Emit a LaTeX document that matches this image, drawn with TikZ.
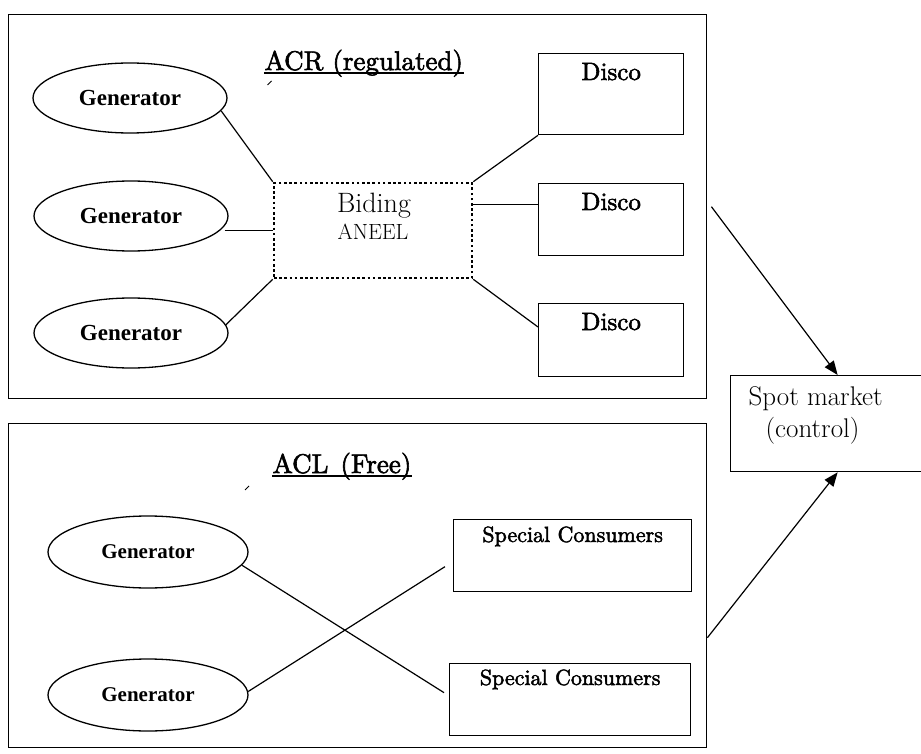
\documentclass[tikz,border=0pt]{standalone}
\usepackage{fontspec}
\usetikzlibrary{shapes.geometric,arrows.meta,calc}
\newfontfamily\genfont{Liberation Serif}
\newfontfamily\heavyfont{lmroman10-regular}[Extension=.otf,FakeBold=2.2]
\newcommand\fsz[1]{\fontsize{#1}{#1}\selectfont}

\begin{document}
\begin{tikzpicture}[x=1pt,y=-1pt,line width=1.2pt,
  frame/.style={draw,line width=1.4pt,anchor=north west,inner sep=0pt},
  gen/.style={draw,ellipse,line width=1.3pt,inner sep=0pt,
    minimum width=194pt,minimum height=70pt,font=\genfont\bfseries\fsz{23}},
  smallgen/.style={gen,minimum width=200pt,minimum height=72pt,font=\genfont\bfseries\fsz{21}},
  box/.style={draw,line width=1.3pt,anchor=north west,inner sep=0pt},
  dotbox/.style={draw,line width=2.6pt,dash pattern=on 2.6pt off 2.6pt,inner sep=0pt},
  lbl/.style={anchor=base,inner sep=0pt},
  link/.style={line width=1.2pt},
  feed/.style={line width=1.2pt,-{Triangle[length=14pt,width=11pt]}}]
\useasboundingbox (0,0) rectangle (921,754);

% outer frames
\node[frame,minimum width=698pt,minimum height=384pt] (acr) at (8,14) {};
\node[frame,minimum width=698pt,minimum height=324pt] (acl) at (8,423) {};

% spot market
\node[box,minimum width=195pt,minimum height=96pt] (spot) at (730,375) {};
\node[lbl,anchor=base west,font=\fsz{27}] (spott) at (748,405) {Spot market};
\node[lbl,anchor=base west,font=\fsz{27}] (ctrlt) at (765,437) {(control)};

% ---------- regulated environment ----------
\node[lbl,anchor=base west,font=\heavyfont\fsz{27}] (acrt) at (264,70) {ACR (regulated)};
\draw[line width=1.3pt] ([yshift=-3pt]acrt.base west) -- ([yshift=-3pt]acrt.base east);
\draw[line width=0.8pt] (267.5,85) -- (271.5,81);

\node[gen] (e1) at (130,98) {Generator};
\node[gen] (e2) at (131,216) {Generator};
\node[gen] (e3) at (131,333) {Generator};

\node[dotbox,minimum width=198pt,minimum height=95pt] (bid) at (373,230.5) {};
\node[lbl,font=\fsz{28}] (bidt) at (374,213) {Biding};
\node[lbl,font=\fsz{22}] (aneel) at (373,240) {ANEEL};

\node[box,minimum width=145pt,minimum height=81pt] (d1) at (538,53) {};
\node[box,minimum width=145pt,minimum height=72pt] (d2) at (538,183) {};
\node[box,minimum width=145pt,minimum height=73pt] (d3) at (538,303) {};
\foreach \d in {d1,d2,d3}
  \node[lbl,font=\heavyfont\fsz{25}] (\d t) at ([yshift=-27pt]\d.north) {Disco};

\draw[link] (e1.-8) -- (bid.north west);
\draw[link] ([xshift=-4pt]bid.west -| e2.east) -- (bid.west);
\draw[link] (e3.5) -- (bid.south west);
\draw[link] (bid.north east) -- (d1.south west);
\draw[link] ([yshift=-23pt]bid.north east) -- ([yshift=-23pt]bid.north east -| d2.west);
\draw[link] (bid.south east) -- ([yshift=-24pt]d3.north west);

% ---------- free environment ----------
\node[lbl,anchor=base west,font=\heavyfont\fsz{27}] (aclt) at (272,473) {ACL\hspace{12pt}(Free)\hspace{8pt}};
\draw[line width=1.3pt] ([yshift=-3pt]aclt.base west) -- ([yshift=-3pt]aclt.base east);
\draw[line width=0.8pt] (245,490) -- (249,486);

\node[smallgen] (e4) at (148,552) {Generator};
\node[smallgen] (e5) at (148,695) {Generator};

\node[box,minimum width=238pt,minimum height=72pt] (sc1) at (453,519) {};
\node[box,minimum width=241pt,minimum height=72pt] (sc2) at (449,663) {};
\node[lbl,font=\heavyfont\fsz{22}] (sc1t) at ([yshift=-23pt]sc1.north) {Special Consumers};
\node[lbl,font=\heavyfont\fsz{22}] (sc2t) at ([yshift=-22pt]sc2.north) {Special Consumers};

% the two crossing contract lines stop just short of the consumer boxes
\coordinate (c1) at ([xshift=-5pt,yshift=7pt]sc2.west);
\coordinate (c2) at ([xshift=-8pt,yshift=-11pt]sc1.west);
\draw[link] (e4.-8) -- (c1);
\draw[link] (c2) -- (e5.2);

% ---------- flows into the spot market ----------
\draw[feed] ([xshift=4pt]acr.east) -- ([xshift=9.5pt]spot.north);
\draw[feed] ([yshift=-52pt]acl.east) -- ([xshift=9.5pt]spot.south);
\end{tikzpicture}
\end{document}
